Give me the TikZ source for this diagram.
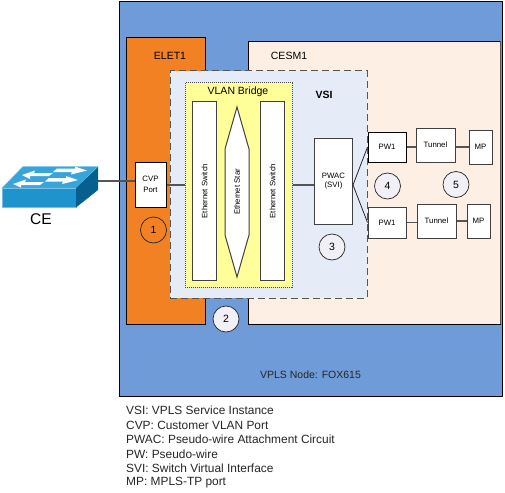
\documentclass[tikz,border=0pt]{standalone}
\usepackage{fontspec}
\setmainfont{Liberation Sans}
\definecolor{nodeblue}{HTML}{6F9BD8}
\definecolor{elet}{HTML}{F28124}
\definecolor{cesm}{HTML}{FDEFE4}
\definecolor{vsifill}{HTML}{E6ECF7}
\definecolor{bridge}{HTML}{FFFF99}
\definecolor{swtop}{HTML}{38A5DA}
\definecolor{swfront}{HTML}{1F93CC}
\definecolor{swside}{HTML}{05608F}
\definecolor{circfill}{HTML}{F1F0F6}
\definecolor{edgegray}{HTML}{555555}
\tikzset{
  x=1pt,y=-1pt,
  region/.style={draw=black,line width=0.9pt},
  whitebox/.style={draw=black!75,line width=1pt,fill=white,inner sep=0pt,align=center,font=\fontsize{7.8}{9.5}\selectfont},
  barlabel/.style={rotate=90,font=\fontsize{7.8}{9}\selectfont},
  marker/.style={circle,draw=black!85,line width=0.7pt,minimum size=26pt,inner sep=0pt,font=\fontsize{10.5}{12}\selectfont},
  graymarker/.style={marker,fill=circfill},
  link/.style={draw=edgegray,line width=1.1pt},
  darklink/.style={draw=black!85,line width=0.8pt},
  title/.style={font=\fontsize{10.5}{12}\selectfont},
  legendline/.style={anchor=west,inner sep=0pt,font=\fontsize{11.9}{14}\selectfont,text=black!85},
  swarrow/.style={fill=white,draw=none}
}
\begin{document}
\begin{tikzpicture}
\useasboundingbox (0,0) rectangle (505,492);
\fill[white] (0,0) rectangle (505,492);
% outer node
\node[region,fill=nodeblue,minimum width=383pt,minimum height=395pt,inner sep=0pt] (vpls) at (310.5,198.5) {};
% line cards
\path[region,fill=cesm,draw] (248,41.5) rectangle (500,324);
\draw[edgegray,line width=1pt] (500,41.5) -- (500,324);
\path[region,fill=elet,draw] (126,37.5) rectangle (205.5,324);
\node[title] (eletname) at (170,55.5) {ELET1};
\node[title] (cesmname) at (289,55.5) {CESM1};
% VSI
\node[fill=vsifill,draw=edgegray,dash pattern=on 7pt off 4pt,line width=1pt,minimum width=197pt,minimum height=227pt,inner sep=0pt] (vsi) at (268.5,184.5) {};
\node[font=\bfseries\fontsize{10.5}{12}\selectfont] (vsiname) at (324,95) {VSI};
\node[fill=bridge,draw=black!70,densely dotted,line width=1pt,minimum width=107pt,minimum height=204pt,inner sep=0pt] (bridgebox) at (238.5,185) {};
\node[title] (bridgename) at (238,91.5) {VLAN Bridge};
% bridge contents
\node[whitebox,minimum width=23.5pt,minimum height=178pt] (swa) at (204.5,191) {};
\node[barlabel] (swatext) at (204.5,191) {Ethernet Switch};
\node[whitebox,minimum width=23.5pt,minimum height=178pt] (swb) at (272.5,191) {};
\node[barlabel] (swbtext) at (272.5,191) {Ethernet Switch};
\draw[draw=black!75,line width=1pt,fill=white] (237,107) -- (249,149) -- (249,235) -- (237,277) -- (225,235) -- (225,149) -- cycle;
\node[barlabel] (startext) at (237,192) {Ethernet Star};
% boxes
\node[whitebox,minimum width=31pt,minimum height=45pt,draw=black] (cvp) at (150.5,184.5) {CVP\\[1.5pt]Port};
\node[whitebox,minimum width=38pt,minimum height=86pt] (pwac) at (333.5,181) {PWAC\\(SVI)};
\node[whitebox,minimum width=38pt,minimum height=30pt,draw=black] (pwa) at (387,147) {PW1};
\node[whitebox,minimum width=39pt,minimum height=34pt] (tuna) at (435.5,145) {Tunnel};
\node[whitebox,minimum width=23pt,minimum height=34pt] (mpa) at (480.5,147) {MP};
\node[whitebox,minimum width=38pt,minimum height=31pt] (pwb) at (387,222.5) {PW1};
\node[whitebox,minimum width=39pt,minimum height=34pt] (tunb) at (436.5,221) {Tunnel};
\node[whitebox,minimum width=23pt,minimum height=34pt] (mpb) at (478.5,221) {MP};
% switch icon
\fill[swtop,draw=swtop!70!white,line width=0.5pt] (2,188) -- (23,166.5) -- (98,166.5) -- (76,188) -- cycle;
\fill[swfront,draw=swtop!70!white,line width=0.5pt] (2,188) rectangle (76,207.5);
\fill[swside] (76,188) -- (98,167) -- (98,190) -- (76,207.5) -- cycle;
\fill[swarrow] (22,175) -- (35,170.5) -- (34,173) -- (53,173) -- (49,176) -- (30,176) -- (30,179) -- cycle;
\fill[swarrow] (87,170.5) -- (75,166.5) -- (75,168.5) -- (57,168.5) -- (53,172) -- (72,172) -- (71,174.5) -- cycle;
\fill[swarrow] (13,184) -- (26,179.5) -- (25,182) -- (44,182) -- (40,185) -- (21,185) -- (21,187.5) -- cycle;
\fill[swarrow] (78,180) -- (66,176) -- (66,178) -- (49,178) -- (45,181.5) -- (63,181.5) -- (62,184) -- cycle;
\coordinate (cesw) at (98,181);
\node[font=\fontsize{15.5}{18}\selectfont] (cename) at (41,219.5) {CE};
% connectors
\draw[link] (cesw) -- (cvp.west |- cesw);
\draw[link] (cvp.east |- 0,185) -- (bridgebox.west |- 0,185);
\draw[link] (bridgebox.east |- 0,185) -- (pwac.west |- 0,185);
\coordinate (pwacout) at (pwac.east |- 0,185);
\draw[darklink] (pwacout) -- (pwa.west);
\draw[darklink] (pwacout) -- (pwb.west);
\draw[link] (pwa.east) -- (tuna.west |- pwa.east);
\draw[link] (tuna.east |- mpa.west) -- (mpa.west);
\draw[link] (pwb.east) -- (tunb.west |- pwb.east);
\draw[link] (tunb.east |- mpb.west) -- (mpb.west);
% markers
\node[marker] (m1) at (153.5,230) {1};
\node[graymarker] (m2) at (226,319) {2};
\node[graymarker] (m3) at (332,247) {3};
\node[graymarker] (m4) at (387.5,186) {4};
\node[graymarker] (m5) at (456,184.5) {5};
\node[font=\fontsize{10.5}{12}\selectfont,text=black!85] (vplsname) at (310.5,375) {VPLS Node: FOX615};
% legend
\node[legendline] (l1) at (126,410.5) {VSI: VPLS Service Instance};
\node[legendline] (l2) at (126,425) {CVP: Customer VLAN Port};
\node[legendline] (l3) at (126,439.5) {PWAC: Pseudo-wire Attachment Circuit};
\node[legendline] (l4) at (126,454) {PW: Pseudo-wire};
\node[legendline] (l5) at (126,468.5) {SVI: Switch Virtual Interface};
\node[legendline] (l6) at (126,483) {MP: MPLS-TP port};
\end{tikzpicture}
\end{document}
